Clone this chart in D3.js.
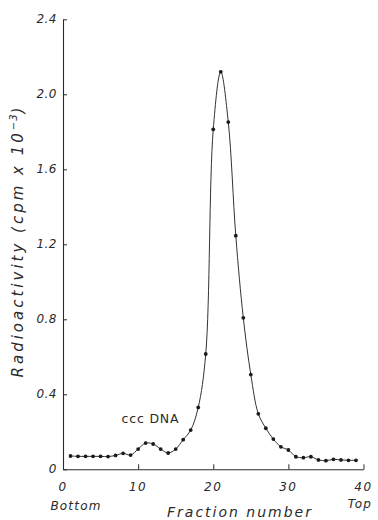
<!DOCTYPE html>
<html>
<head>
<meta charset="utf-8">
<script src="https://cdn.jsdelivr.net/npm/d3@7"></script>
<style>
  html, body { margin: 0; padding: 0; background: #fff; }
  svg { display: block; }
  .lbl { font-family: "DejaVu Sans", sans-serif; fill: #2a2a2a; }
</style>
</head>
<body>
<div id="chart"></div>
<script>
// fraction number (bottom -> top of gradient)
const fractions = [1, 2, 3, 4, 5, 6, 7, 8, 9, 10, 11, 12, 13, 14, 15, 16, 17, 18, 19, 20,
  21, 22, 23, 24, 25, 26, 27, 28, 29, 30, 31, 32, 33, 34, 35, 36, 37, 38, 39];
// radioactivity, cpm x 10^-3
const radioactivity = [0.071, 0.069, 0.069, 0.069, 0.069, 0.068, 0.074, 0.085, 0.076, 0.108,
  0.140, 0.135, 0.108, 0.087, 0.108, 0.158, 0.209, 0.330, 0.615, 1.813,
  2.120, 1.852, 1.246, 0.808, 0.505, 0.296, 0.219, 0.161, 0.120, 0.103,
  0.067, 0.062, 0.067, 0.050, 0.046, 0.053, 0.050, 0.048, 0.048];
const xTicks = [0, 10, 20, 30, 40];
const yTicks = [0, 0.4, 0.8, 1.2, 1.6, 2.0, 2.4];

const width = 378, height = 520;
const x = d3.scaleLinear().domain([0, 40]).range([63, 363.5]);
const y = d3.scaleLinear().domain([0, 2.4]).range([469.3, 19.3]);

const svg = d3.select('#chart').append('svg')
  .attr('width', width)
  .attr('height', height);

svg.append('rect').attr('width', width).attr('height', height).attr('fill', '#fff');

const ink = '#2a2a2a';

// axes: ticks point inward
const xAxis = svg.append('g')
  .attr('transform', `translate(0,${y(0)})`)
  .call(d3.axisBottom(x).tickValues(xTicks).tickSize(-5).tickSizeOuter(0).tickFormat(''));
const yAxis = svg.append('g')
  .attr('transform', `translate(${x(0)},0)`)
  .call(d3.axisLeft(y).tickValues(yTicks).tickSize(-4).tickSizeOuter(0).tickFormat(''));
[xAxis, yAxis].forEach(g => {
  g.select('.domain').attr('stroke', ink).attr('stroke-width', 1.1);
  g.selectAll('.tick line').attr('stroke', ink).attr('stroke-width', 1);
});

// tick labels
svg.selectAll('.xt').data(xTicks).join('text')
  .attr('class', 'lbl')
  .attr('x', d => x(d))
  .attr('y', 491)
  .attr('text-anchor', 'middle')
  .attr('font-size', 12)
  .attr('font-style', 'oblique')
  .attr('letter-spacing', 1.5)
  .text(d => d);

svg.selectAll('.yt').data(yTicks).join('text')
  .attr('class', 'lbl')
  .attr('x', 57)
  .attr('y', d => y(d) + 4)
  .attr('text-anchor', 'end')
  .attr('font-size', 12)
  .attr('font-style', 'oblique')
  .attr('letter-spacing', 0.5)
  .text(d => d === 0 ? '0' : d.toFixed(1));

// axis titles
svg.append('text')
  .attr('class', 'lbl')
  .attr('x', 240)
  .attr('y', 517)
  .attr('text-anchor', 'middle')
  .attr('font-size', 14)
  .attr('font-style', 'oblique')
  .attr('letter-spacing', 2)
  .text('Fraction number');

svg.append('text')
  .attr('class', 'lbl')
  .attr('x', 76)
  .attr('y', 510)
  .attr('text-anchor', 'middle')
  .attr('font-size', 12)
  .attr('font-style', 'oblique')
  .attr('letter-spacing', 1.2)
  .text('Bottom');

svg.append('text')
  .attr('class', 'lbl')
  .attr('x', 360)
  .attr('y', 508)
  .attr('text-anchor', 'middle')
  .attr('font-size', 12)
  .attr('font-style', 'oblique')
  .attr('letter-spacing', 1.2)
  .text('Top');

const yTitle = svg.append('text')
  .attr('class', 'lbl')
  .attr('transform', 'translate(23,241) rotate(-90)')
  .attr('text-anchor', 'middle')
  .attr('font-size', 15)
  .attr('font-style', 'oblique')
  .attr('letter-spacing', 3);
yTitle.append('tspan').text('Radioactivity (cpm x 10');
yTitle.append('tspan').attr('dy', -6).attr('font-size', 10).attr('letter-spacing', 1).text('−3');
yTitle.append('tspan').attr('dy', 6).text(')');

svg.append('text')
  .attr('class', 'lbl')
  .attr('x', x(7.8))
  .attr('y', y(0.245))
  .attr('font-size', 12.5)
  .attr('letter-spacing', 0.8)
  .text('ccc DNA');

// profile
const pts = fractions.map((f, i) => [f, radioactivity[i]]);
const line = d3.line()
  .x(d => x(d[0]))
  .y(d => y(d[1]))
  .curve(d3.curveCatmullRom.alpha(0.5));

svg.append('path')
  .datum(pts)
  .attr('fill', 'none')
  .attr('stroke', '#333')
  .attr('stroke-width', 1)
  .attr('d', line);

svg.selectAll('.pt').data(pts).join('circle')
  .attr('cx', d => x(d[0]))
  .attr('cy', d => y(d[1]))
  .attr('r', 1.9)
  .attr('fill', '#1a1a1a');
</script>
</body>
</html>
